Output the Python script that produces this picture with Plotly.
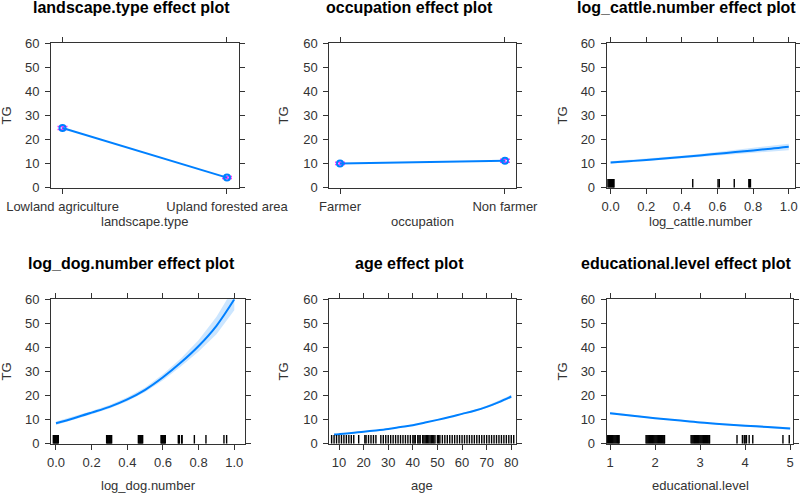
import plotly.graph_objects as go

# ---------------- data ----------------
landscape_cats = ["Lowland agriculture", "Upland forested area"]
landscape_fit = [24.8, 4.2]
landscape_lo = [24.2, 3.8]
landscape_hi = [25.4, 4.7]

occupation_cats = ["Farmer", "Non farmer"]
occupation_fit = [10.1, 11.2]
occupation_lo = [9.6, 10.6]
occupation_hi = [10.6, 11.8]

cattle_x = [0.0, 0.1, 0.2, 0.3, 0.4, 0.5, 0.6, 0.7, 0.8, 0.9, 1.0]
cattle_fit = [10.5, 11.0, 11.5, 12.1, 12.8, 13.4, 14.1, 14.8, 15.5, 16.2, 17.0]
cattle_lo = [10.0, 10.5, 11.0, 11.6, 12.2, 12.8, 13.4, 14.0, 14.6, 15.1, 15.6]
cattle_hi = [11.0, 11.5, 12.0, 12.6, 13.3, 14.0, 14.8, 15.6, 16.4, 17.3, 18.3]
cattle_rug = [-0.015, -0.01, -0.005, 0.0, 0.005, 0.01, 0.015, 0.019,
              0.461, 0.603, 0.610, 0.694, 0.776, 0.780, 0.785]

dog_x = [0.0, 0.1, 0.2, 0.3, 0.4, 0.5, 0.6, 0.7, 0.8, 0.9, 1.0]
dog_fit = [8.5, 10.6, 12.9, 15.3, 18.4, 22.4, 27.6, 33.7, 40.6, 49.0, 60.0]
dog_lo = [7.8, 9.9, 12.2, 14.6, 17.6, 21.5, 26.4, 32.1, 38.3, 45.5, 55.5]
dog_hi = [9.2, 11.3, 13.6, 16.1, 19.3, 23.4, 28.9, 35.4, 43.1, 52.8, 65.0]
dog_rug = [-0.015, -0.011, -0.007, -0.003, 0.001, 0.005, 0.009, 0.013,
           0.284, 0.288, 0.292, 0.296, 0.300, 0.304, 0.308, 0.312,
           0.462, 0.466, 0.470, 0.474, 0.478, 0.482, 0.486,
           0.589, 0.593, 0.597, 0.601, 0.605, 0.609, 0.613,
           0.686, 0.690, 0.692, 0.705, 0.707, 0.776, 0.841, 0.942, 0.957]

age_x = [8, 10, 15, 20, 25, 30, 35, 40, 45, 50, 55, 60, 65, 70, 75, 80]
age_fit = [3.8, 3.95, 4.4, 5.0, 5.5, 6.1, 6.9, 7.7, 8.8, 9.9, 11.1, 12.4, 13.7, 15.3, 17.3, 19.6]
age_lo = [3.5, 3.7, 4.2, 4.8, 5.3, 5.9, 6.7, 7.5, 8.6, 9.7, 10.8, 12.0, 13.3, 14.8, 16.7, 18.9]
age_hi = [4.1, 4.2, 4.6, 5.2, 5.7, 6.3, 7.1, 7.9, 9.0, 10.1, 11.4, 12.8, 14.1, 15.8, 17.9, 20.3]
age_rug = [7, 8, 9, 10, 11, 12, 13, 14, 15, 16, 18, 20.5, 21, 22, 23, 24, 25,
           27, 28, 29, 30, 31, 32, 33, 34, 35, 36, 37, 38, 39, 40, 40.5, 41, 42,
           42.5, 43, 44, 44.5, 45, 45.5, 46, 46.5, 47, 47.5, 48, 48.5, 49, 50,
           50.5, 51, 52, 53, 54, 55, 56, 57, 58, 59, 60, 61, 62, 63, 64, 65, 66,
           67, 68, 69, 70, 71, 72, 73, 74, 75, 76, 77, 78, 79, 80, 81]

edu_x = [1.0, 1.5, 2.0, 2.5, 3.0, 3.5, 4.0, 4.5, 5.0]
edu_fit = [12.7, 11.6, 10.6, 9.7, 8.8, 8.1, 7.5, 6.9, 6.3]
edu_lo = [12.2, 11.2, 10.3, 9.4, 8.5, 7.8, 7.1, 6.5, 5.8]
edu_hi = [13.2, 12.0, 10.9, 10.0, 9.1, 8.4, 7.9, 7.3, 6.8]
edu_rug = [0.91, 0.93, 0.95, 0.97, 0.99, 1.01, 1.03, 1.05, 1.07, 1.09, 1.11,
           1.13, 1.15, 1.17, 1.19, 1.20,
           1.80, 1.82, 1.84, 1.86, 1.88, 1.90, 1.92, 1.94, 1.96, 1.98, 2.00,
           2.02, 2.04, 2.06, 2.08, 2.10, 2.12, 2.14, 2.16, 2.18, 2.20, 2.21,
           2.80, 2.82, 2.84, 2.86, 2.88, 2.90, 2.92, 2.94, 2.96, 2.98, 3.00,
           3.02, 3.04, 3.06, 3.08, 3.10, 3.12, 3.14, 3.16, 3.18, 3.20, 3.21,
           3.82, 3.94, 3.98, 4.00, 4.03, 4.09, 4.17, 4.84, 4.98]

rug_height = 3.6

titles = ["landscape.type effect plot", "occupation effect plot",
          "log_cattle.number effect plot", "log_dog.number effect plot",
          "age effect plot", "educational.level effect plot"]
xtitles = ["landscape.type", "occupation", "log_cattle.number",
           "log_dog.number", "age", "educational.level"]
ytitle = "TG"

# ---------------- style ----------------
BLUE = "#0080ff"
BAND = "rgba(0,128,255,0.2)"
PINK = "#ff33ff"
AX = "#333333"
FONT = "Liberation Sans, Arial, sans-serif"

W, H = 800, 493
# panel boxes in pixels: (left, right, top, bottom)
boxes = [(51, 238.5, 43.3, 187.7), (329.3, 516, 43.3, 187.7), (606.7, 795, 43.3, 187.7),
         (51, 245, 299.3, 443.7), (329.3, 515.7, 299.3, 443.7), (606.7, 793.3, 299.3, 443.7)]
xranges = [[-0.07, 1.07], [-0.065, 1.067], [-0.022, 1.035],
           [-0.028, 1.06], [6.06, 81.8], [0.926, 5.07]]
xticks = [None, None, [0, 0.2, 0.4, 0.6, 0.8, 1.0], [0, 0.2, 0.4, 0.6, 0.8, 1.0],
          [10, 20, 30, 40, 50, 60, 70, 80], [1, 2, 3, 4, 5]]
xtickfmt = ["", "", ".1f", ".1f", "d", "d"]
title_cx = [131.5, 409, 686.7, 131.5, 409, 686.7]
ylab_x = [6, 283, 562, 6, 283, 562]

fig = go.Figure()


def ax(i):
    return ("x" if i == 0 else f"x{i+1}"), ("y" if i == 0 else f"y{i+1}")


def add_band(i, x, lo, hi):
    xa, ya = ax(i)
    fig.add_trace(go.Scatter(x=x, y=lo, mode="lines", line=dict(width=0, color=BAND),
                             xaxis=xa, yaxis=ya, showlegend=False, hoverinfo="skip"))
    fig.add_trace(go.Scatter(x=x, y=hi, mode="lines", line=dict(width=0, color=BAND),
                             fill="tonexty", fillcolor=BAND,
                             xaxis=xa, yaxis=ya, showlegend=False, hoverinfo="skip"))


def add_line(i, x, y):
    xa, ya = ax(i)
    fig.add_trace(go.Scatter(x=x, y=y, mode="lines", line=dict(width=2, color=BLUE, shape="spline"),
                             xaxis=xa, yaxis=ya, showlegend=False))


def add_rug(i, vals):
    xa, ya = ax(i)
    xs, ys = [], []
    for v in vals:
        xs += [v, v, None]
        ys += [0, rug_height, None]
    fig.add_trace(go.Scatter(x=xs, y=ys, mode="lines", line=dict(width=1.4, color="black"),
                             xaxis=xa, yaxis=ya, showlegend=False, hoverinfo="skip"))


def add_factor(i, cats, fit, lo, hi):
    xa, ya = ax(i)
    fig.add_trace(go.Scatter(
        x=cats, y=fit, mode="lines+markers",
        line=dict(width=2, color=BLUE),
        marker=dict(symbol="circle-open", size=6, color=BLUE, line=dict(width=2)),
        error_y=dict(type="data", symmetric=False,
                     array=[h - f for h, f in zip(hi, fit)],
                     arrayminus=[f - l for f, l in zip(fit, lo)],
                     color=PINK, thickness=1.5, width=5),
        xaxis=xa, yaxis=ya, showlegend=False))


add_factor(0, landscape_cats, landscape_fit, landscape_lo, landscape_hi)
add_factor(1, occupation_cats, occupation_fit, occupation_lo, occupation_hi)

add_band(2, cattle_x, cattle_lo, cattle_hi)
add_line(2, cattle_x, cattle_fit)
add_rug(2, cattle_rug)

add_band(3, dog_x, dog_lo, dog_hi)
add_line(3, dog_x, dog_fit)
add_rug(3, dog_rug)

add_band(4, age_x, age_lo, age_hi)
add_line(4, age_x, age_fit)
add_rug(4, age_rug)

add_band(5, edu_x, edu_lo, edu_hi)
add_line(5, edu_x, edu_fit)
add_rug(5, edu_rug)

layout = dict(width=W, height=H, margin=dict(l=0, r=0, t=0, b=0, autoexpand=False),
              paper_bgcolor="white", plot_bgcolor="white",
              font=dict(family=FONT, size=13, color=AX), showlegend=False)

common = dict(showline=True, linecolor=AX, linewidth=1, mirror="ticks",
              ticks="outside", ticklen=5, tickcolor=AX, tickwidth=1, automargin=False,
              showgrid=False, zeroline=False, tickfont=dict(size=13, color=AX, family=FONT))

annotations = []
for i, (l, r, t, b) in enumerate(boxes):
    xa, ya = ax(i)
    xkey = "xaxis" if i == 0 else f"xaxis{i+1}"
    ykey = "yaxis" if i == 0 else f"yaxis{i+1}"
    xd = dict(common, domain=[l / W, r / W], range=xranges[i], anchor=ya, ticklabelstandoff=2)
    if i < 2:
        xd["type"] = "category"
    else:
        xd["tickvals"] = xticks[i]
        xd["tickformat"] = xtickfmt[i]
    yd = dict(common, domain=[1 - b / H, 1 - t / H], range=[0, 60], anchor=xa,
              tickvals=[0, 10, 20, 30, 40, 50, 60], ticklabelstandoff=3)
    layout[xkey] = xd
    layout[ykey] = yd
    # panel title
    ty = 7.5 if i < 3 else 263
    annotations.append(dict(text=f"<b>{titles[i]}</b>", x=title_cx[i] / W, y=1 - ty / H,
                            xref="paper", yref="paper", showarrow=False,
                            xanchor="center", yanchor="middle",
                            font=dict(size=16, color="black", family=FONT)))
    # x-axis title
    xty = 221.7 if i < 3 else 485
    annotations.append(dict(text=xtitles[i], x=(l + r) / 2 / W, y=1 - xty / H,
                            xref="paper", yref="paper", showarrow=False,
                            xanchor="center", yanchor="middle",
                            font=dict(size=13, color=AX, family=FONT)))
    # y-axis title
    annotations.append(dict(text=ytitle, x=ylab_x[i] / W, y=1 - (t + b) / 2 / H,
                            xref="paper", yref="paper", showarrow=False, textangle=-90,
                            xanchor="center", yanchor="middle",
                            font=dict(size=13, color=AX, family=FONT)))

layout["annotations"] = annotations
fig.update_layout(**layout)
fig.write_html("out.html", config={"displayModeBar": False},
               post_script="document.body.style.margin='0';document.body.style.padding='0';"
                           "document.body.style.overflow='hidden';")
